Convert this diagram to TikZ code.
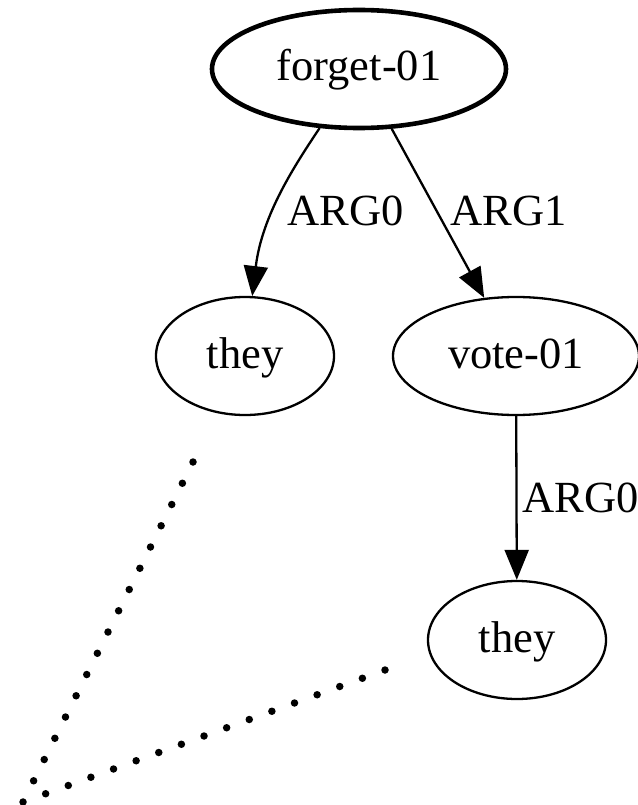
\documentclass[tikz,border=0pt]{standalone}
\usepackage{fontspec}
\setmainfont{Liberation Serif}
\usetikzlibrary{shapes.geometric,arrows.meta}
\begin{document}
\begin{tikzpicture}[x=1pt,y=-1pt,
  concept/.style={ellipse,draw,line width=2.3pt,inner sep=0pt,
    minimum width=178pt,minimum height=118pt,
    text height=31pt,text depth=7pt,
    font=\fontsize{44.5}{50}\selectfont},
  root/.style={concept,line width=4.6pt,minimum width=294pt},
  role/.style={line width=2.3pt,-{Triangle[length=30pt,width=24pt]}},
  rolelabel/.style={inner sep=0pt,anchor=base west,font=\fontsize{44.5}{50}\selectfont},
  alignline/.style={line width=7.5pt,line cap=round,dash pattern=on 0pt off #1}]
\useasboundingbox (0,0) rectangle (637,805);
\node[root] (forget) at (359,69) {forget-01};
\node[concept] (they0) at (245,356) {they};
\node[concept,minimum width=246pt] (vote) at (516,356) {vote-01};
\node[concept] (they1) at (517,640) {they};
\draw[role] (forget) .. controls (295,165) and (262,215) .. (they0);
\draw[role] (forget) -- (vote);
\draw[role] (vote) -- (they1);
\node[rolelabel] (l0) at (287,225) {ARG0};
\node[rolelabel] (l1) at (450,225) {ARG1};
\node[rolelabel] (l2) at (522,512) {ARG0};
% dotted alignment lines
\coordinate (a0) at (193,462);
\coordinate (a1) at (385,670);
\coordinate (tok) at (23,802);
\draw[alignline=23.76pt] (a0) -- (tok);
\draw[alignline=24.08pt] (a1) -- (tok);
\end{tikzpicture}
\end{document}
